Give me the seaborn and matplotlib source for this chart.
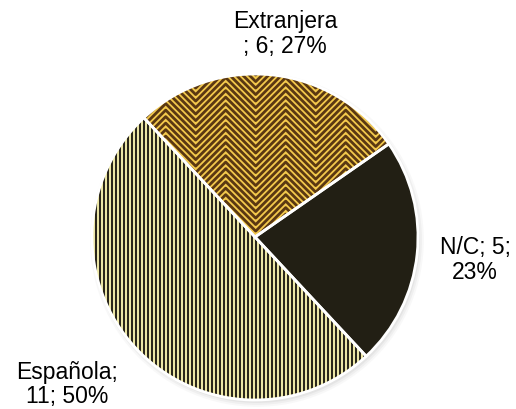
import numpy as np
import matplotlib
matplotlib.use("Agg")
import matplotlib.pyplot as plt
from matplotlib.collections import LineCollection
import seaborn as sns

# datos
categorias = ["Española", "Extranjera", "N/C"]
valores = [11, 6, 5]
porcentajes = ["50%", "27%", "23%"]
etiquetas = ["Española;\n11; 50%", "Extranjera\n; 6; 27%", "N/C; 5;\n23%"]

sns.set_style("white")
plt.rcParams["font.family"] = ["Liberation Sans", "DejaVu Sans"]

fondo = ["#ece6a6", "#f3c94c", "#221f14"]
trama = ["#1e1b12", "#5a3812", None]

fig = plt.figure(figsize=(5.16, 4.09), dpi=100)
ax = fig.add_axes([0, 0, 1, 1])

# sombra suave
for i, a in enumerate([0.05, 0.07, 0.09]):
    sombra = plt.Circle((0.012, -0.018), 1.0 + 0.012 * (2 - i), color="#808080",
                        alpha=a, lw=0, zorder=0)
    ax.add_patch(sombra)

wedges, _ = ax.pie(valores, colors=fondo, startangle=-47, counterclock=False,
                   radius=1.0, wedgeprops=dict(linewidth=0, zorder=1))

px = 1 / 163.0

# rayas verticales (Española)
xs = np.arange(-1.05, 1.05, 4 * px)
segs = [[(x, -1.05), (x, 1.05)] for x in xs]
lc = LineCollection(segs, colors=trama[0], linewidths=1.35, zorder=2)
lc.set_clip_path(wedges[0])
ax.add_collection(lc)

# zigzag (Extranjera)
P = 60 * px
xz = np.arange(-1.1, 1.1 + P / 2, P / 2)
tri = np.where(np.arange(len(xz)) % 2 == 0, 0.0, P / 2)
segs = []
for b in np.arange(-1.2, 1.3, 6.5 * px):
    segs.append(np.column_stack([xz, b + tri]))
lc2 = LineCollection(segs, colors=trama[1], linewidths=2.0, zorder=2)
lc2.set_clip_path(wedges[1])
ax.add_collection(lc2)

# bordes blancos encima
ax.pie(valores, colors=["none"] * 3, startangle=-47, counterclock=False,
       radius=1.0, wedgeprops=dict(linewidth=2, edgecolor="white", zorder=3))

pos = [(-1.153, -0.905), (0.184, 1.245), (1.35, -0.14)]
for (x, y), t in zip(pos, etiquetas):
    ax.text(x, y, t, ha="center", va="center", fontsize=16.5,
            linespacing=1.1, color="black")

ax.set_xlim(-255 * px, (516 - 255) * px)
ax.set_ylim(-(409 - 237) * px, 237 * px)
ax.set_aspect("auto")
ax.axis("off")

fig.savefig("out.png", dpi=100)
